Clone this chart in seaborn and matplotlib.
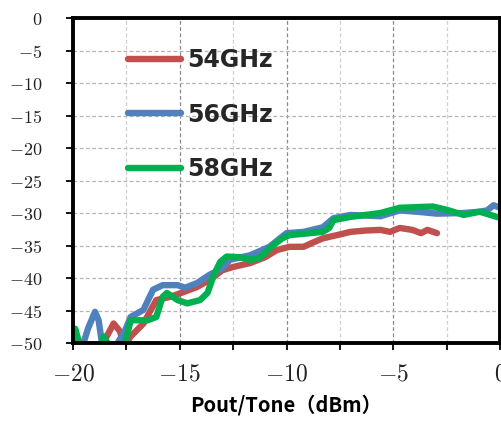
import numpy as np
import pandas as pd
import matplotlib
matplotlib.use("Agg")
import matplotlib.pyplot as plt
import seaborn as sns
from matplotlib.ticker import MultipleLocator, FixedLocator

# ---- data ----
series_names = ["54GHz", "56GHz", "58GHz"]
series_colors = ["#C0504D", "#4F81BD", "#00B050"]

x_54 = [-20.0, -19.85, -19.6, -18.8, -18.5, -18.1, -17.8, -17.6, -17.3, -16.7, -16.1, -15.45, -14.85,
        -14.2, -13.6, -13.0, -12.5, -11.7, -11.0, -10.45, -9.85, -9.2, -8.8, -8.3, -7.5, -7.0, -6.3,
        -5.6, -5.15, -4.7, -4.1, -3.7, -3.4, -2.95]
y_54 = [-48.5, -49.5, -51, -51, -49.5, -47.0, -48.2, -50.5, -49.0, -47.0, -43.4, -42.9, -42.2,
        -41.4, -40.3, -38.8, -38.3, -37.7, -36.8, -35.7, -35.2, -35.2, -34.6, -33.9, -33.3, -32.9, -32.7,
        -32.6, -32.9, -32.3, -32.6, -33.1, -32.6, -33.1]

x_56 = [-19.6, -19.3, -18.97, -18.8, -18.6, -18.2, -18.0, -17.55, -17.3, -16.7, -16.25, -15.8, -15.1,
        -14.75, -14.2, -13.6, -13.0, -12.65, -11.7, -10.8, -10.0, -9.2, -8.3, -7.8, -7.0, -5.6, -4.7,
        -3.9, -2.95, -1.7, -0.95, -0.6, -0.3, 0.0]
y_56 = [-51, -47.8, -45.2, -46.5, -51, -51, -50.5, -48.0, -46.0, -44.9, -41.8, -41.1, -41.1,
        -41.5, -40.8, -39.5, -38.5, -37.2, -36.5, -35.2, -33.1, -32.9, -32.2, -30.8, -30.3, -30.5, -29.6,
        -29.8, -30.1, -30.0, -29.8, -29.6, -28.8, -29.2]

x_58 = [-20.0, -19.9, -19.75, -19.55, -18.8, -18.55, -18.3, -17.8, -17.55, -17.3, -16.5, -16.1, -15.8,
        -15.6, -15.1, -14.65, -14.05, -13.7, -13.4, -13.1, -12.8, -12.2, -11.7, -11.25, -10.6, -10.2,
        -9.85, -8.9, -8.3, -8.0, -7.8, -7.0, -5.6, -4.7, -3.15, -2.5, -1.7, -0.95, 0.05]
y_58 = [-50, -47.8, -49.5, -51, -51, -49.0, -50.5, -51, -50, -46.5, -46.5, -46.0, -42.9,
        -42.3, -43.4, -43.9, -43.4, -42.3, -39.5, -37.5, -36.7, -36.8, -37.2, -36.9, -34.9, -33.9,
        -33.4, -33.1, -32.9, -32.3, -31.1, -30.6, -30.0, -29.2, -29.0, -29.5, -30.3, -29.8, -30.8]

x_ticks = [-20, -15, -10, -5, 0]
x_tick_labels = ["$-20$", "$-15$", "$-10$", "$-5$", "$0$"]
y_ticks = [0, -5, -10, -15, -20, -25, -30, -35, -40, -45, -50]
y_tick_labels = ["$0$", "$-5$", "$-10$", "$-15$", "$-20$", "$-25$", "$-30$", "$-35$", "$-40$", "$-45$", "$-50$"]
x_label = "Pout/Tone（dBm）"

# ---- build table ----
frames = []
for name, xs, ys in zip(series_names, [x_54, x_56, x_58], [y_54, y_56, y_58]):
    frames.append(pd.DataFrame({"x": xs, "y": ys, "freq": name}))
df = pd.concat(frames, ignore_index=True)

sns.set_theme(style="white")
plt.rcParams["mathtext.fontset"] = "cm"
plt.rcParams["font.family"] = ["DejaVu Sans"]

fig = plt.figure(figsize=(5.02, 4.23), dpi=100)
ax = fig.add_axes([73 / 502, 1 - 343 / 423, 427 / 502, 325 / 423])

sns.lineplot(data=df, x="x", y="y", hue="freq", palette=dict(zip(series_names, series_colors)),
             hue_order=series_names, sort=False, estimator=None,
             linewidth=4.6, ax=ax, legend=True)
for ln in ax.lines:
    ln.set_solid_capstyle("round")
    ln.set_solid_joinstyle("round")

ax.set_xlim(-20, 0)
ax.set_ylim(-50, 0)

ax.xaxis.set_major_locator(FixedLocator(x_ticks))
ax.set_xticklabels(x_tick_labels)
ax.xaxis.set_minor_locator(MultipleLocator(2.5))
ax.yaxis.set_major_locator(FixedLocator(y_ticks))
ax.set_yticklabels(y_tick_labels)

ax.grid(True, which="major", axis="y", linestyle=(0, (3, 2)), color="#b4b4b4", linewidth=0.9)
ax.grid(True, which="major", axis="x", linestyle=(0, (3, 2)), color="#8a8a8a", linewidth=0.9)
ax.grid(True, which="minor", axis="x", linestyle=(0, (3, 2)), color="#cfcfcf", linewidth=0.9)
ax.set_axisbelow(True)

for s in ax.spines.values():
    s.set_color("black")
    s.set_linewidth(2.8)
    s.set_visible(True)

ax.tick_params(axis="x", which="both", direction="out", length=5, width=1.3, color="black",
               bottom=True, top=False, pad=8, labelsize=17, labelcolor="#222222")
ax.tick_params(axis="y", which="major", direction="out", length=5, width=1.3, color="black",
               left=True, right=False, pad=17, labelsize=13, labelcolor="#222222")

ax.set_xlabel(x_label, family=["Noto Sans CJK JP", "DejaVu Sans"], fontweight="bold",
              fontsize=14.5, labelpad=7, color="black")
ax.set_ylabel("")

handles, labels = ax.get_legend_handles_labels()
leg = ax.legend(handles, labels, loc="upper left", bbox_to_anchor=(0.129, 0.908),
                frameon=False, borderaxespad=0, borderpad=0, handlelength=2.25,
                handletextpad=0.25, labelspacing=1.3,
                prop={"family": "DejaVu Sans", "weight": "bold", "size": 17})
for h in leg.get_lines():
    h.set_linewidth(4.6)
    h.set_solid_capstyle("round")

fig.savefig("out.png", dpi=100)
